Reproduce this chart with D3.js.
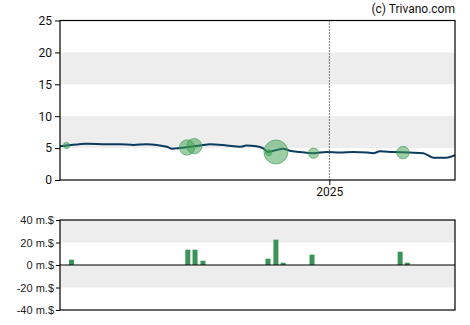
<!DOCTYPE html>
<html>
<head>
<meta charset="utf-8">
<script src="https://cdn.jsdelivr.net/npm/d3@7"></script>
<style>
body { margin:0; background:#fff; }
svg text { font-family: Roboto, "Liberation Sans", sans-serif; }
</style>
</head>
<body>
<div id="chart"></div>
<script>
// price line
var price_dates = ["2023-12-25","2024-01-03","2024-01-31","2024-02-28","2024-03-17","2024-04-05","2024-04-23","2024-05-07","2024-05-21","2024-05-28","2024-06-08","2024-06-22","2024-07-06","2024-07-20","2024-08-12","2024-08-30","2024-09-08","2024-09-22","2024-10-01","2024-10-08","2024-10-20","2024-10-29","2024-11-07","2024-11-21","2024-12-10","2024-12-28","2025-01-16","2025-02-03","2025-02-22","2025-03-03","2025-03-12","2025-03-30","2025-04-22","2025-05-11","2025-05-25","2025-06-12","2025-06-24"];
var price_values = [5.3,5.4,5.7,5.6,5.6,5.5,5.6,5.5,5.2,4.9,5.0,5.2,5.4,5.6,5.4,5.2,5.4,5.3,5.0,4.4,4.7,4.9,4.6,4.4,4.2,4.4,4.3,4.4,4.3,4.2,4.5,4.4,4.3,4.2,3.5,3.5,3.9];
// insider bubbles
var bubble_dates = ["2024-01-03","2024-06-18","2024-06-28","2024-10-09","2024-10-19","2024-12-10","2025-04-13"];
var bubble_values = [5.4,5.1,5.3,4.3,4.4,4.2,4.3];
var bubble_sizes = [1.5,9,9,1.5,22,4,6];
// volume bars (m.$)
var bar_dates = ["2024-01-10","2024-06-19","2024-06-29","2024-07-10","2024-10-08","2024-10-19","2024-10-29","2024-12-08","2025-04-09","2025-04-19"];
var bar_values = [4.7,13.6,13.6,3.8,5.6,22.5,2,9.2,11.8,2];
var price_ticks = [0,5,10,15,20,25];
var price_bands = [[5,10],[15,20]];
var vol_ticks = [-40,-20,0,20,40];
var vol_bands = [[-20,0],[20,40]];
var x_start = "2023-12-25", x_end = "2025-06-24";

var parse = d3.timeParse("%Y-%m-%d");
var W = 470, H = 325, L = 60, R = 455;

var svg = d3.select("#chart").append("svg")
    .attr("width", W).attr("height", H);

var x = d3.scaleTime([parse(x_start), parse(x_end)], [L, R]);
var y = d3.scaleLinear([0, 25], [180, 20.5]);
var yv = d3.scaleLinear([-40, 40], [310, 220]);

// top panel
svg.selectAll(".band").data(price_bands).join("rect")
    .attr("x", L).attr("width", R - L)
    .attr("y", d => y(d[1])).attr("height", d => y(d[0]) - y(d[1]))
    .style("fill", "#ededed");

svg.append("line")
    .attr("x1", x(new Date(2025,0,1))).attr("x2", x(new Date(2025,0,1)))
    .attr("y1", y(25)).attr("y2", y(0))
    .style("stroke", "#000").style("stroke-dasharray", "1,2");

var pts = price_dates.map((d,i) => ({date: parse(d), v: price_values[i]}));
svg.append("path").datum(pts)
    .attr("d", d3.line().x(d => x(d.date)).y(d => y(d.v)).curve(d3.curveMonotoneX))
    .style("fill", "none").style("stroke", "#0d3b5e").style("stroke-width", 2);

var bub = bubble_dates.map((d,i) => ({date: parse(d), v: bubble_values[i], s: bubble_sizes[i]}));
var r = d3.scaleSqrt([0, 22], [0, 12]);
svg.selectAll(".bub").data(bub).join("circle")
    .attr("cx", d => x(d.date)).attr("cy", d => y(d.v)).attr("r", d => r(d.s))
    .style("fill", "rgba(60,160,80,0.5)").style("stroke", "rgba(60,150,80,0.6)");

svg.append("rect").attr("x", L).attr("y", y(25)).attr("width", R - L).attr("height", y(0) - y(25))
    .style("fill", "none").style("stroke", "#000").style("stroke-width", 1.2);

svg.append("g").attr("transform", "translate(" + L + ",0)")
    .call(d3.axisLeft(y).tickValues(price_ticks).tickSize(5).tickPadding(3))
    .call(g => g.select(".domain").remove())
    .call(g => g.selectAll("text").style("font-size", "12px").style("fill", "#111"));

svg.append("g").attr("transform", "translate(0,180)")
    .call(d3.axisBottom(x).tickValues([new Date(2025,0,1)]).tickFormat(d3.timeFormat("%Y")).tickSize(5).tickPadding(2))
    .call(g => g.select(".domain").remove())
    .call(g => g.selectAll("text").style("font-size", "12px").style("fill", "#111"));

svg.append("text").attr("x", R).attr("y", 13).attr("text-anchor", "end")
    .style("font-size", "12px").style("fill", "#111").text("(c) Trivano.com");

// bottom panel
svg.selectAll(".vband").data(vol_bands).join("rect")
    .attr("x", L).attr("width", R - L)
    .attr("y", d => yv(d[1])).attr("height", d => yv(d[0]) - yv(d[1]))
    .style("fill", "#ededed");

svg.selectAll(".bar").data(bar_dates.map((d,i) => ({date: parse(d), v: bar_values[i]}))).join("rect")
    .attr("x", d => x(d.date) - 2.5).attr("width", 5)
    .attr("y", d => yv(d.v)).attr("height", d => yv(0) - yv(d.v))
    .style("fill", "#3a9458");

svg.append("line").attr("x1", L).attr("x2", R).attr("y1", yv(0)).attr("y2", yv(0))
    .style("stroke", "#000").style("stroke-width", 1.2);

svg.append("rect").attr("x", L).attr("y", yv(40)).attr("width", R - L).attr("height", yv(-40) - yv(40))
    .style("fill", "none").style("stroke", "#000").style("stroke-width", 1.2);

svg.append("g").attr("transform", "translate(" + L + ",0)")
    .call(d3.axisLeft(yv).tickValues(vol_ticks).tickFormat(d => d + " m.$").tickSize(4).tickPadding(2))
    .call(g => g.select(".domain").remove())
    .call(g => g.selectAll("text").style("font-size", "11px").style("font-family", "'Liberation Sans', Arial, sans-serif").style("fill", "#222"));
</script>
</body>
</html>
